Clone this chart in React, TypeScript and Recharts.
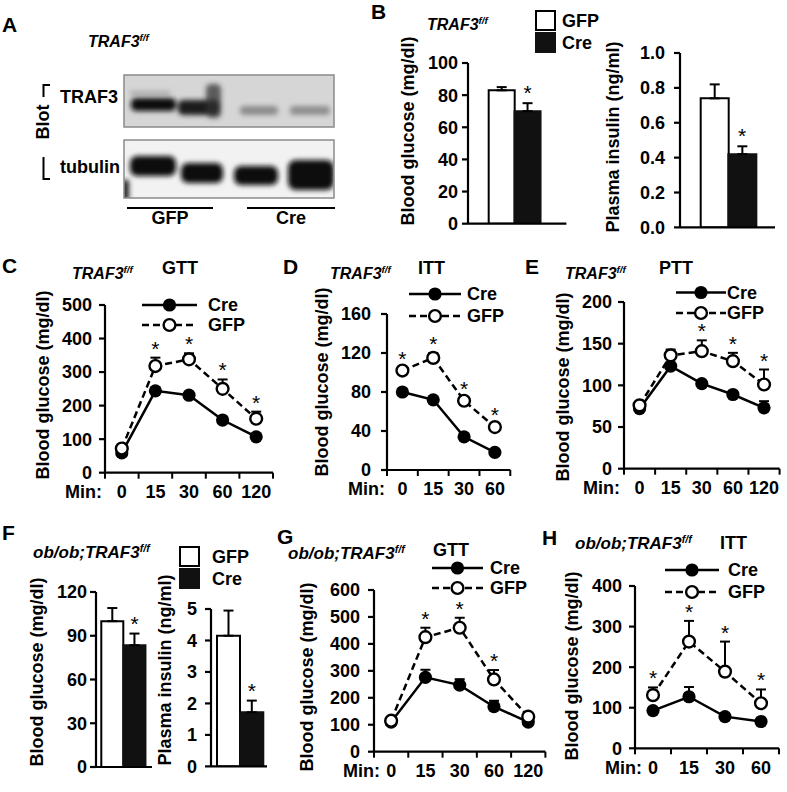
import React from "react";
import {
  LineChart,
  ComposedChart,
  Line,
  Bar,
  Cell,
  XAxis,
  YAxis,
  ErrorBar,
  LabelList,
} from "recharts";

const FONT = '"Liberation Sans", Arial, Helvetica, sans-serif';

// ---- data -------------------------------------------------------------
const minGtt = ["0", "15", "30", "60", "120"];
const minItt = ["0", "15", "30", "60"];
const groups = ["GFP", "Cre"];

// C: TRAF3f/f GTT
const cCre = [59, 244, 231, 157, 107];
const cCreErr = [4, 6, 6, 6, 5];
const cGfp = [72, 318, 338, 250, 161];
const cGfpErr = [5, 25, 18, 28, 21];
const cSig = [false, true, true, true, true];

// D: TRAF3f/f ITT
const dCre = [80, 72, 34, 18];
const dCreErr = [2, 2, 2, 2];
const dGfp = [102, 115, 71, 44];
const dGfpErr = [3, 5, 3, 3];
const dSig = [true, true, true, true];

// E: TRAF3f/f PTT
const eCre = [72, 123, 102, 89, 73];
const eCreErr = [3, 4, 3, 4, 8];
const eGfp = [76, 136, 141, 129, 101];
const eGfpErr = [3, 7, 13, 10, 18];
const eSig = [false, false, true, true, true];

// G: ob/ob GTT
const gCre = [110, 276, 247, 167, 110];
const gCreErr = [5, 28, 22, 22, 5];
const gGfp = [115, 425, 460, 268, 130];
const gGfpErr = [5, 35, 37, 35, 8];
const gSig = [false, true, true, true, false];

// H: ob/ob ITT
const hCre = [93, 127, 78, 66];
const hCreErr = [5, 24, 5, 5];
const hGfp = [131, 263, 189, 111];
const hGfpErr = [19, 51, 74, 34];
const hSig = [true, true, true, true];

// bars: [GFP, Cre]
const b1Glucose = [83, 70];
const b1Err = [2, 5];
const b2Insulin = [0.74, 0.42];
const b2Err = [0.08, 0.045];
const f1Glucose = [100, 83.5];
const f1Err = [9, 8];
const f2Insulin = [4.15, 1.72];
const f2Err = [0.8, 0.37];
const barSig = [false, true];

// ---- shared styles ----------------------------------------------------
const AXIS = { stroke: "#000", strokeWidth: 2.2 };
const TICK = { fontSize: 18, fontWeight: 700, fill: "#000", fontFamily: FONT };
const YW = 70;
const MT = 12;
const MR = 8;

const makeStar = (dy: number) => (p: any) => {
  if (p.value == null) return null;
  const x = p.x ?? p.viewBox?.x;
  const y = p.y ?? p.viewBox?.y;
  if (x == null || y == null || isNaN(y)) return null;
  return (
    <text x={x} y={y - dy} textAnchor="middle" fontSize={21} fill="#000" fontFamily={FONT}>
      *
    </text>
  );
};

const creDot = (d: any) =>
  d.cy == null ? null : <circle key={`c${d.index}`} cx={d.cx} cy={d.cy} r={6.6} fill="#000" />;
const gfpDot = (d: any) =>
  d.cy == null ? null : (
    <circle key={`g${d.index}`} cx={d.cx} cy={d.cy} r={5.9} fill="#fff" stroke="#000" strokeWidth={2.4} />
  );

function MinTick(props: any) {
  const { x, y, payload, cats, minDx } = props;
  const v = payload.value;
  if (Number.isInteger(v)) {
    return (
      <text x={x} y={y + 19} dy="0.355em" textAnchor="middle" {...TICK}>
        {cats[v]}
      </text>
    );
  }
  return (
    <g>
      <line x1={x} x2={x} y1={y} y2={y + 6} stroke="#000" strokeWidth={2} />
      {v < 0 && (
        <text x={x + minDx} y={y + 19} dy="0.355em" textAnchor="end" {...TICK}>
          Min:
        </text>
      )}
    </g>
  );
}

interface LinePanelProps {
  x0: number;
  x1: number;
  yTop: number;
  yBot: number;
  yMax: number;
  yTicks: number[];
  tickGap: number;
  minDx: number;
  cats: string[];
  cre: number[];
  creErr: number[];
  gfp: number[];
  gfpErr: number[];
  sig: boolean[];
}

function LinePanel(p: LinePanelProps) {
  const n = p.cats.length;
  const XH = 34;
  const data = p.cats.map((c, i) => ({
    i,
    cre: p.cre[i],
    creErr: [0, p.creErr[i]],
    gfp: p.gfp[i],
    gfpErr: [0, p.gfpErr[i]],
    star: p.sig[i] ? p.gfp[i] + p.gfpErr[i] : null,
  }));
  const xTicks = Array.from({ length: 2 * n + 1 }, (_, k) => -0.5 + k * 0.5);
  const width = p.x1 - p.x0 + YW + MR;
  const height = p.yBot - p.yTop + MT + XH;
  return (
    <div style={{ position: "absolute", left: p.x0 - YW, top: p.yTop - MT, width, height }}>
      <LineChart width={width} height={height} data={data} margin={{ top: MT, right: MR, bottom: 0, left: 0 }}>
        <XAxis
          dataKey="i"
          type="number"
          domain={[-0.5, n - 0.5]}
          ticks={xTicks}
          interval={0}
          allowDataOverflow
          height={XH}
          axisLine={AXIS}
          tickLine={false}
          tickSize={0}
          tickMargin={0}
          tick={(t: any) => <MinTick {...t} cats={p.cats} minDx={p.minDx} />}
        />
        <YAxis
          type="number"
          domain={[0, p.yMax]}
          ticks={p.yTicks}
          interval={0}
          allowDataOverflow
          width={YW}
          axisLine={AXIS}
          tickLine={AXIS}
          tickSize={6}
          tickMargin={p.tickGap}
          tick={TICK}
        />
        <Line dataKey="cre" stroke="#000" strokeWidth={2.5} dot={creDot} activeDot={false} isAnimationActive={false}>
          <ErrorBar dataKey="creErr" direction="y" width={5} stroke="#000" strokeWidth={2} />
        </Line>
        <Line
          dataKey="gfp"
          stroke="#000"
          strokeWidth={2.5}
          strokeDasharray="7 4"
          dot={gfpDot}
          activeDot={false}
          isAnimationActive={false}
        >
          <ErrorBar dataKey="gfpErr" direction="y" width={5} stroke="#000" strokeWidth={2} />
        </Line>
        <Line dataKey="star" stroke="none" dot={false} activeDot={false} isAnimationActive={false}>
          <LabelList dataKey="star" content={makeStar(2)} />
        </Line>
      </LineChart>
    </div>
  );
}

interface BarPanelProps {
  x0: number;
  x1: number;
  yTop: number;
  yBot: number;
  yMax: number;
  yTicks: number[];
  tickGap: number;
  padL: number;
  padR: number;
  vals: number[];
  errs: number[];
  fmt?: (v: number) => string;
}

function BarPanel(p: BarPanelProps) {
  const XH = 2;
  const data = groups.map((g, i) => ({
    g,
    v: p.vals[i],
    err: [0, p.errs[i]],
    star: barSig[i] ? p.vals[i] + p.errs[i] : null,
  }));
  const width = p.x1 - p.x0 + YW + MR;
  const height = p.yBot - p.yTop + MT + XH;
  return (
    <div style={{ position: "absolute", left: p.x0 - YW, top: p.yTop - MT, width, height }}>
      <ComposedChart
        width={width}
        height={height}
        data={data}
        barCategoryGap={0}
        barGap={0}
        margin={{ top: MT, right: MR, bottom: 0, left: 0 }}
      >
        <XAxis
          dataKey="g"
          type="category"
          height={XH}
          axisLine={AXIS}
          tickLine={false}
          tick={false}
          padding={{ left: p.padL, right: p.padR }}
        />
        <YAxis
          type="number"
          domain={[0, p.yMax]}
          ticks={p.yTicks}
          interval={0}
          allowDataOverflow
          width={YW}
          axisLine={AXIS}
          tickLine={AXIS}
          tickSize={6}
          tickMargin={p.tickGap}
          tick={TICK}
          tickFormatter={p.fmt}
        />
        <Bar dataKey="v" isAnimationActive={false}>
          {data.map((d, i) => (
            <Cell key={d.g} fill={i === 0 ? "#fff" : "#111"} stroke={i === 0 ? "#000" : "#111"} strokeWidth={2} />
          ))}
          <ErrorBar dataKey="err" direction="y" width={5} stroke="#000" strokeWidth={2} />
        </Bar>
        <Line dataKey="star" stroke="none" dot={false} activeDot={false} isAnimationActive={false}>
          <LabelList dataKey="star" content={makeStar(3)} />
        </Line>
      </ComposedChart>
    </div>
  );
}

// ---- overlay: letters, titles, legends, blot ---------------------------
function Txt({ x, y, size = 18, italic = false, anchor = "start", children }: any) {
  return (
    <text
      x={x}
      y={y}
      dy="0.355em"
      fontSize={size}
      fontWeight={700}
      fontStyle={italic ? "italic" : "normal"}
      textAnchor={anchor}
      fill="#000"
      fontFamily={FONT}
    >
      {children}
    </text>
  );
}

function Geno({ x, y, prefix = "", size = 16 }: any) {
  return (
    <Txt x={x} y={y} size={size} italic>
      {prefix}TRAF3
      <tspan fontSize={size * 0.62} dy={-6}>
        f/f
      </tspan>
    </Txt>
  );
}

function YTitle({ x, y, children }: any) {
  return (
    <text
      transform={`translate(${x},${y}) rotate(-90)`}
      dy="0.355em"
      textAnchor="middle"
      fontSize={18}
      fontWeight={700}
      fill="#000"
      fontFamily={FONT}
    >
      {children}
    </text>
  );
}

function LineLegend({ x0, x1, yCre, yGfp, tx }: any) {
  const mid = (x0 + x1) / 2;
  return (
    <g>
      <line x1={x0} x2={x1} y1={yCre} y2={yCre} stroke="#000" strokeWidth={2.5} />
      <circle cx={mid} cy={yCre} r={6.6} fill="#000" />
      <Txt x={tx} y={yCre}>Cre</Txt>
      <line x1={x0} x2={x1} y1={yGfp} y2={yGfp} stroke="#000" strokeWidth={2.5} strokeDasharray="7 4" />
      <circle cx={mid} cy={yGfp} r={5.9} fill="#fff" stroke="#000" strokeWidth={2.4} />
      <Txt x={tx} y={yGfp}>GFP</Txt>
    </g>
  );
}

function BoxLegend({ x, yGfp, yCre, tx }: any) {
  const s = 19;
  return (
    <g>
      <rect x={x} y={yGfp} width={s} height={s} fill="#fff" stroke="#000" strokeWidth={2} />
      <Txt x={tx} y={yGfp + s / 2}>GFP</Txt>
      <rect x={x} y={yCre} width={s} height={s} fill="#111" stroke="#111" strokeWidth={2} />
      <Txt x={tx} y={yCre + s / 2}>Cre</Txt>
    </g>
  );
}

function Blot() {
  return (
    <g>
      <defs>
        <filter id="blur" x="-30%" y="-60%" width="160%" height="220%">
          <feGaussianBlur stdDeviation="2.4" />
        </filter>
        <clipPath id="clipTop">
          <rect x={124} y={75} width={210} height={52} />
        </clipPath>
        <clipPath id="clipBot">
          <rect x={124} y={140} width={210} height={58} />
        </clipPath>
      </defs>
      <rect x={124} y={75} width={210} height={52} fill="#d6d6d6" />
      <g clipPath="url(#clipTop)" filter="url(#blur)">
        <rect x={130} y={91} width={40} height={4} fill="#777" opacity={0.5} />
        <rect x={131} y={98} width={45} height={13} rx={5} fill="#111" />
        <rect x={178} y={100} width={42} height={15} rx={5} fill="#1a1a1a" />
        <rect x={206} y={84} width={15} height={34} rx={5} fill="#333" opacity={0.75} />
        <rect x={240} y={106} width={38} height={9} rx={4} fill="#8c8c8c" />
        <rect x={290} y={106} width={40} height={9} rx={4} fill="#8f8f8f" />
      </g>
      <rect x={124} y={75} width={210} height={52} fill="none" stroke="#8a8a8a" strokeWidth={1.5} />
      <rect x={124} y={140} width={210} height={58} fill="#f2f2f2" />
      <g clipPath="url(#clipBot)" filter="url(#blur)">
        <rect x={130} y={156} width={46} height={20} rx={7} fill="#0d0d0d" />
        <rect x={181} y={163} width={42} height={20} rx={7} fill="#111" />
        <rect x={234} y={166} width={44} height={19} rx={7} fill="#111" />
        <rect x={288} y={160} width={46} height={30} rx={8} fill="#0a0a0a" />
        <rect x={122} y={180} width={7} height={20} fill="#222" />
      </g>
      <rect x={124} y={140} width={210} height={58} fill="none" stroke="#8a8a8a" strokeWidth={1.5} />
      <Txt x={118} y={97} anchor="end">TRAF3</Txt>
      <Txt x={120} y={167} anchor="end">tubulin</Txt>
      <path d="M50 85 L43.5 85 L43.5 97" fill="none" stroke="#000" strokeWidth={2} />
      <path d="M43.5 157 L43.5 179 L50 179" fill="none" stroke="#000" strokeWidth={2} />
      <YTitle x={43} y={122}>Blot</YTitle>
      <line x1={127} x2={213} y1={208} y2={208} stroke="#000" strokeWidth={2} />
      <line x1={247} x2={335} y1={208} y2={208} stroke="#000" strokeWidth={2} />
      <Txt x={170} y={218} anchor="middle">GFP</Txt>
      <Txt x={291} y={218} anchor="middle">Cre</Txt>
    </g>
  );
}

function Overlay() {
  return (
    <svg width={787} height={792} style={{ position: "absolute", left: 0, top: 0 }}>
      <rect width={787} height={792} fill="#fff" />
      {/* panel letters */}
      <Txt x={2} y={25} size={21}>A</Txt>
      <Txt x={371} y={12} size={21}>B</Txt>
      <Txt x={2} y={266} size={21}>C</Txt>
      <Txt x={283} y={267} size={21}>D</Txt>
      <Txt x={525} y={267} size={21}>E</Txt>
      <Txt x={2} y={533} size={21}>F</Txt>
      <Txt x={277} y={537} size={21}>G</Txt>
      <Txt x={542} y={538} size={21}>H</Txt>

      {/* panel titles */}
      <Geno x={88} y={41} />
      <Geno x={427} y={24} />
      <Geno x={72} y={273} />
      <Txt x={162} y={268}>GTT</Txt>
      <Geno x={330} y={273} />
      <Txt x={418} y={268}>ITT</Txt>
      <Geno x={565} y={273} />
      <Txt x={659} y={268}>PTT</Txt>
      <Geno x={33} y={552} prefix="ob/ob;" size={17} />
      <Geno x={288} y={553} prefix="ob/ob;" size={17} />
      <Txt x={433} y={550}>GTT</Txt>
      <Geno x={575} y={543} prefix="ob/ob;" size={17} />
      <Txt x={720} y={543}>ITT</Txt>

      {/* axis titles */}
      <YTitle x={408} y={131}>Blood glucose (mg/dl)</YTitle>
      <YTitle x={613} y={137}>Plasma insulin (ng/ml)</YTitle>
      <YTitle x={43} y={385}>Blood glucose (mg/dl)</YTitle>
      <YTitle x={322} y={382}>Blood glucose (mg/dl)</YTitle>
      <YTitle x={563} y={387}>Blood glucose (mg/dl)</YTitle>
      <YTitle x={37} y={672}>Blood glucose (mg/dl)</YTitle>
      <YTitle x={165} y={670}>Plasma insulin (ng/ml)</YTitle>
      <YTitle x={307} y={677}>Blood glucose (mg/dl)</YTitle>
      <YTitle x={572} y={666}>Blood glucose (mg/dl)</YTitle>

      {/* legends */}
      <BoxLegend x={536} yGfp={11} yCre={33} tx={562} />
      <BoxLegend x={180} yGfp={547} yCre={569} tx={212} />
      <LineLegend x0={142} x1={197} yCre={305} yGfp={325} tx={208} />
      <LineLegend x0={409} x1={461} yCre={294} yGfp={316} tx={467} />
      <LineLegend x0={676} x1={726} yCre={292.5} yGfp={313} tx={727} />
      <LineLegend x0={432} x1={483} yCre={568} yGfp={588} tx={490} />
      <LineLegend x0={665} x1={719} yCre={570} yGfp={592} tx={728} />

      <Blot />
    </svg>
  );
}

export default function App() {
  return (
    <div
      style={{
        position: "absolute",
        left: 0,
        top: 0,
        width: 787,
        height: 792,
        background: "#fff",
        fontFamily: FONT,
        overflow: "hidden",
      }}
    >
      <style>{`.recharts-surface{overflow:visible}`}</style>
      <Overlay />

      <BarPanel x0={468.3} x1={566.7} yTop={63.3} yBot={224} yMax={100} yTicks={[0, 20, 40, 60, 80, 100]}
        tickGap={4} padL={20.7} padR={26} vals={b1Glucose} errs={b1Err} />
      <BarPanel x0={680} x1={775} yTop={53.3} yBot={227.7} yMax={1} yTicks={[0, 0.2, 0.4, 0.6, 0.8, 1]}
        tickGap={9} padL={20.7} padR={19} vals={b2Insulin} errs={b2Err} fmt={(v) => v.toFixed(1)} />

      <LinePanel x0={105} x1={273} yTop={305} yBot={472.7} yMax={500} yTicks={[0, 100, 200, 300, 400, 500]}
        tickGap={7} minDx={-3} cats={minGtt} cre={cCre} creErr={cCreErr} gfp={cGfp} gfpErr={cGfpErr} sig={cSig} />
      <LinePanel x0={386.7} x1={510} yTop={313.7} yBot={469.7} yMax={160} yTicks={[0, 40, 80, 120, 160]}
        tickGap={10} minDx={-2} cats={minItt} cre={dCre} creErr={dCreErr} gfp={dGfp} gfpErr={dGfpErr} sig={dSig} />
      <LinePanel x0={624.4} x1={780} yTop={302.3} yBot={469} yMax={200} yTicks={[0, 50, 100, 150, 200]}
        tickGap={6} minDx={-4} cats={minGtt} cre={eCre} creErr={eCreErr} gfp={eGfp} gfpErr={eGfpErr} sig={eSig} />

      <BarPanel x0={95.7} x1={151.7} yTop={591.7} yBot={766.7} yMax={120} yTicks={[0, 30, 60, 90, 120]}
        tickGap={3} padL={5.3} padR={6.4} vals={f1Glucose} errs={f1Err} />
      <BarPanel x0={210.7} x1={266.7} yTop={609.3} yBot={766.7} yMax={5} yTicks={[0, 1, 2, 3, 4, 5]}
        tickGap={8} padL={6} padR={3.4} vals={f2Insulin} errs={f2Err} />

      <LinePanel x0={374.3} x1={545.7} yTop={590} yBot={751.7} yMax={600} yTicks={[0, 100, 200, 300, 400, 500, 600]}
        tickGap={8} minDx={6} cats={minGtt} cre={gCre} creErr={gCreErr} gfp={gGfp} gfpErr={gGfpErr} sig={gSig} />
      <LinePanel x0={635} x1={779} yTop={586} yBot={748.3} yMax={400} yTicks={[0, 100, 200, 300, 400]}
        tickGap={7} minDx={7} cats={minItt} cre={hCre} creErr={hCreErr} gfp={hGfp} gfpErr={hGfpErr} sig={hSig} />
    </div>
  );
}
